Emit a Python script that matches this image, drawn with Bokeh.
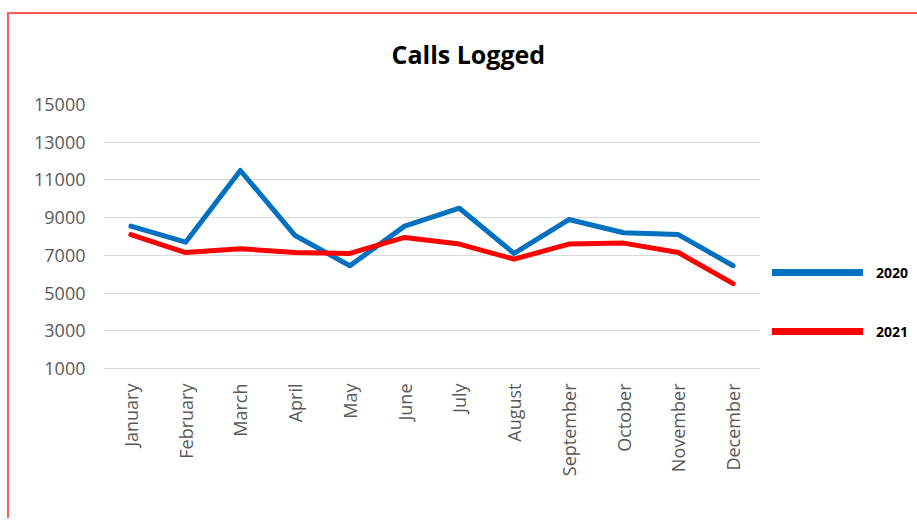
import math
from bokeh.plotting import figure
from bokeh.layouts import row
from bokeh.models import (FactorRange, Range1d, FixedTicker, Legend, LegendItem,
                          ColumnDataSource, Title)
from bokeh.embed import file_html
from bokeh.resources import INLINE

months = ["January", "February", "March", "April", "May", "June", "July",
          "August", "September", "October", "November", "December"]
calls_2020 = [8550, 7700, 11500, 8050, 6450, 8550, 9500, 7100, 8900, 8200, 8100, 6450]
calls_2021 = [8100, 7150, 7350, 7150, 7100, 7950, 7600, 6800, 7600, 7650, 7150, 5500]
y_ticks = [1000, 3000, 5000, 7000, 9000, 11000, 13000, 15000]
series_names = ["2020", "2021"]
series_colors = ["#0070C0", "#FF0000"]
series_cols = ["y2020", "y2021"]

src = ColumnDataSource(data=dict(month=months, y2020=calls_2020, y2021=calls_2021))

x_range = FactorRange(factors=months, range_padding=0)
y_range = Range1d(1000, 15000)

p = figure(width=751, height=504, x_range=x_range, y_range=y_range,
           output_backend="svg", toolbar_location=None,
           min_border_left=94, min_border_right=0,
           min_border_top=90, min_border_bottom=150,
           title="Calls Logged")
p.outline_line_color = None
p.background_fill_color = "white"
p.border_fill_color = "white"

# spacer between title and plot area
p.add_layout(Title(text=" ", text_font_size="1px", standoff=31), "above")

p.title.align = "left"
p.title.offset = 288
p.title.standoff = 0
p.title.vertical_align = "bottom"
p.title.text_font = "Open Sans"
p.title.text_font_size = "25px"
p.title.text_font_style = "bold"
p.title.text_color = "black"

for col, c in zip(series_cols, series_colors):
    p.line(x="month", y=col, source=src, line_color=c, line_width=5,
           line_join="round", line_cap="round")

p.xgrid.grid_line_color = None
p.ygrid.grid_line_color = "#D9D9D9"
p.ygrid.grid_line_width = 1

p.yaxis.ticker = FixedTicker(ticks=y_ticks)
p.yaxis.axis_line_color = None
p.yaxis.major_tick_line_color = None
p.yaxis.minor_tick_line_color = None
p.yaxis.major_tick_out = 0
p.yaxis.major_tick_in = 0
p.yaxis.major_label_standoff = 18
p.yaxis.major_label_text_font = "Open Sans"
p.yaxis.major_label_text_font_size = "18px"
p.yaxis.major_label_text_color = "#595959"

p.xaxis.axis_line_color = "#D9D9D9"
p.xaxis.major_tick_line_color = None
p.xaxis.minor_tick_line_color = None
p.xaxis.major_tick_out = 0
p.xaxis.major_tick_in = 0
p.xaxis.major_label_orientation = math.pi / 2
p.xaxis.major_label_standoff = 15
p.xaxis.major_label_text_font = "Open Sans"
p.xaxis.major_label_text_font_size = "18px"
p.xaxis.major_label_text_color = "#595959"

# legend panel to the right of the plot area
p2 = figure(width=157, height=504, x_range=x_range, y_range=y_range,
            output_backend="svg", toolbar_location=None, min_border=0,
            x_axis_location=None, y_axis_location=None)
p2.outline_line_color = None
p2.grid.visible = False
p2.background_fill_color = "white"
p2.border_fill_color = "white"

leg_renderers = [p2.line(x="month", y=col, source=src, line_color=c, line_width=7,
                         line_cap="round", visible=False)
                 for col, c in zip(series_cols, series_colors)]
legend = Legend(items=[LegendItem(label=n, renderers=[r])
                       for n, r in zip(series_names, leg_renderers)],
                location=(12, 27), orientation="vertical",
                glyph_width=91, glyph_height=20, label_height=20,
                spacing=39, label_standoff=13,
                padding=0, margin=0, border_line_color=None,
                background_fill_alpha=0, click_policy="none",
                inactive_fill_alpha=0,
                label_text_font="Open Sans", label_text_font_size="14px",
                label_text_font_style="bold", label_text_color="black")
p2.add_layout(legend)

layout = row(p, p2, spacing=0)
layout.styles = {"margin-top": "12px", "margin-left": "7px",
                 "border-left": "2px solid #FF5A5A", "border-top": "2px solid #FF5A5A"}

open("out.html", "w").write(file_html(layout, INLINE))
